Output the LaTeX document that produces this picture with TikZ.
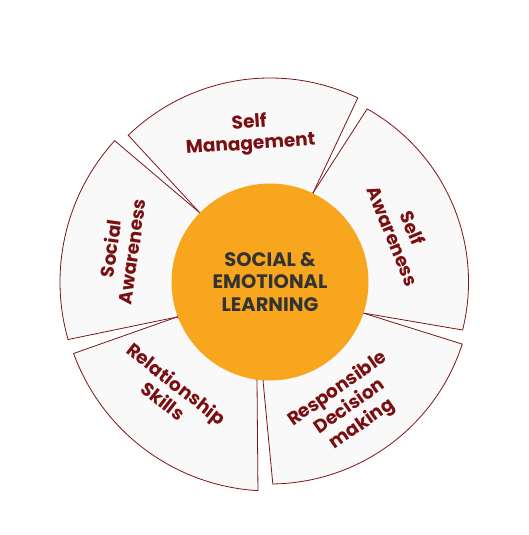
\documentclass[tikz,border=0pt]{standalone}
\usepackage{fontspec}
\setmainfont{Poppins}
\usetikzlibrary{positioning}

\definecolor{rimline}{HTML}{7B1416}
\definecolor{slicefill}{HTML}{F9F9F9}
\definecolor{hubfill}{HTML}{F7A61E}
\definecolor{hubtext}{HTML}{333333}
\definecolor{slicetext}{HTML}{7A0E10}

\begin{document}
\begin{tikzpicture}[x=1pt,y=1pt,
    slice/.style={draw=rimline,fill=slicefill,line width=0.8pt,line join=miter},
    hub/.style={circle,fill=hubfill,minimum size=197pt,inner sep=0pt,align=center,
        text=hubtext,font=\fontsize{19.5}{22.5}\selectfont\bfseries},
    slicelabel/.style={align=center,text=slicetext,inner sep=0pt,
        font=\fontsize{18.5}{21.5}\selectfont\bfseries}]

\useasboundingbox (-270,-253) rectangle (258,282);

% junction points on the rim of the hub
\coordinate (j1) at (-70,69);
\coordinate (j2) at (43,89);
\coordinate (j3) at (93,-31);
\coordinate (j4r) at (-7,-98.5);
\coordinate (j4l) at (-13,-98);
\coordinate (j5) at (-93,-35);

% the five slices
\path[slice] (64.5:204pt) arc[start angle=64.5,end angle=134,radius=204pt] -- (j1) -- (j2) -- cycle;
\path[slice] (-14:198.5pt) arc[start angle=-14,end angle=60.7,radius=198.5pt] -- (j2) -- (j3) -- cycle;
\path[slice] (-89.2:202pt) arc[start angle=-89.2,end angle=-17.9,radius=202pt] -- (j3) -- (j4r) -- cycle;
\path[slice] (-160:209pt) arc[start angle=-160,end angle=-93.3,radius=209pt] -- (j4l) -- (j5) -- cycle;
\path[slice] (137.7:210pt) arc[start angle=137.7,end angle=195.9,radius=210pt] -- (j5) -- (j1) -- cycle;

\node[hub] (sel) at (0,0) {SOCIAL \&\\EMOTIONAL\\LEARNING};

\node[slicelabel,rotate=4] (manage) at (-20,148) {Self\\Management};
\node[slicelabel,rotate=-67.5] (selfaware) at (133,50) {Self\\Awareness};
\node[slicelabel,rotate=82] (socaware) at (-149,32) {Social\\Awareness};
\node[slicelabel,rotate=-38] (relation) at (-100,-110) {Relationship\\Skills};
\node[slicelabel,rotate=35] (decide) at (80,-125) {Responsible\\Decision\\making};
\end{tikzpicture}
\end{document}
